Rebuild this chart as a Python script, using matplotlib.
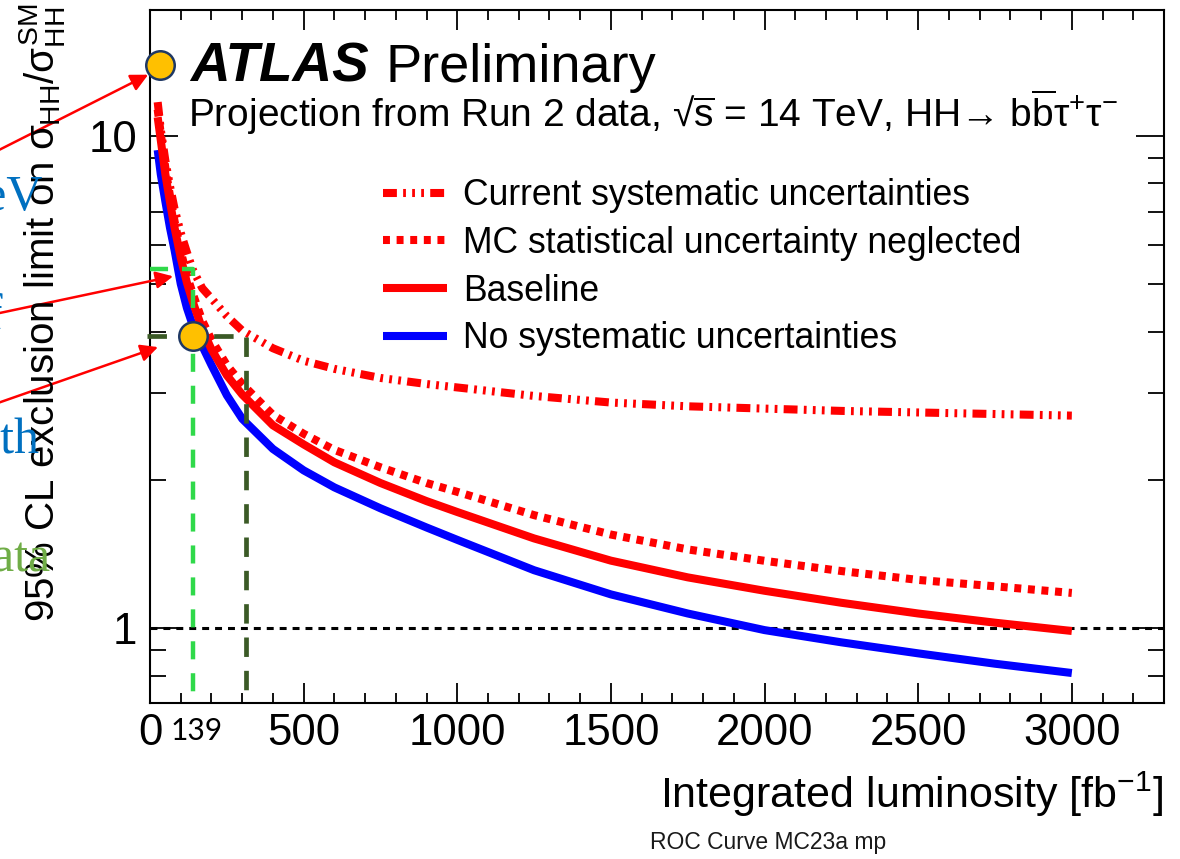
import matplotlib
matplotlib.use("Agg")
import matplotlib.pyplot as plt
from matplotlib import font_manager as fm
from matplotlib.ticker import FixedLocator, MultipleLocator, LogLocator, NullFormatter
import numpy as np

# ---------------- data ----------------
lumi = [25, 35, 50, 65, 80, 100, 120, 139, 170, 200, 250, 300, 400, 500, 600, 750,
        900, 1000, 1250, 1500, 1750, 2000, 2250, 2500, 2750, 3000]
limit_current_syst = [11.7, 10.3, 8.9, 7.9, 7.1, 6.35, 5.8, 5.35, 4.9, 4.67, 4.3, 4.02,
                      3.7, 3.49, 3.36, 3.22, 3.13, 3.08, 2.96, 2.87, 2.82, 2.79, 2.76,
                      2.74, 2.72, 2.70]
limit_mc_neglected = [11.3, 10.1, 8.6, 7.55, 6.7, 5.82, 5.2, 4.78, 4.21, 3.85, 3.42,
                      3.13, 2.71, 2.48, 2.30, 2.12, 1.97, 1.89, 1.695, 1.548, 1.444,
                      1.369, 1.305, 1.252, 1.215, 1.178]
limit_baseline = [10.9, 9.8, 8.35, 7.33, 6.5, 5.65, 5.03, 4.6, 4.05, 3.68, 3.26, 2.98,
                  2.58, 2.36, 2.17, 1.97, 1.81, 1.72, 1.52, 1.37, 1.267, 1.19, 1.125,
                  1.07, 1.025, 0.986]
limit_no_syst = [9.35, 8.35, 7.35, 6.5, 5.85, 5.0, 4.47, 4.12, 3.74, 3.42, 2.97, 2.66,
                 2.31, 2.09, 1.93, 1.75, 1.60, 1.51, 1.31, 1.17, 1.07, 0.99, 0.935,
                 0.888, 0.846, 0.81]

series_labels = [
    "Current systematic uncertainties",
    "MC statistical uncertainty neglected",
    "Baseline",
    "No systematic uncertainties",
]

x_major_ticks = [0, 500, 1000, 1500, 2000, 2500, 3000]
x_tick_labels = ["0", "500", "1000", "1500", "2000", "2500", "3000"]
y_major_ticks = [1, 10]
y_tick_labels = ["1", "10"]

run2_lumi = 139          # fb^-1 collected in Run 2
run2_guide_limit = 5.35  # light-green guide level
run2_limit = 3.92        # marked limit at 139 fb^-1
extended_lumi = 313      # dark-green guide luminosity
top_marker = (33, 13.9)

X_MIN, X_MAX = 0, 3300
Y_MIN, Y_MAX = 0.704, 18.0

# ---------------- style ----------------
W, H = 1180, 859
plt.rcParams["font.family"] = ["Liberation Sans", "DejaVu Sans"]
plt.rcParams["mathtext.fontset"] = "custom"
plt.rcParams["mathtext.rm"] = "Liberation Sans"
plt.rcParams["mathtext.it"] = "Liberation Sans"
plt.rcParams["mathtext.bf"] = "Liberation Sans:bold"
plt.rcParams["mathtext.sf"] = "Liberation Sans"
plt.rcParams["lines.scale_dashes"] = False


def fx(x):
    return x / W


def fy(y):
    return 1 - y / H


installed = {f.name for f in fm.fontManager.ttflist}

fig = plt.figure(figsize=(W / 100, H / 100), dpi=100)
fig.patch.set_facecolor("white")
ax = fig.add_axes([fx(150), fy(703), (1164 - 150) / W, (703 - 10) / H])
ax.set_yscale("log")
ax.set_xlim(X_MIN, X_MAX)
ax.set_ylim(Y_MIN, Y_MAX)

RED = "#ff0000"
BLUE = "#0000ff"
LW = 5.8

l_blue, = ax.plot(lumi, limit_no_syst, color=BLUE, lw=LW, solid_capstyle="butt",
                  solid_joinstyle="round", zorder=3)
l_base, = ax.plot(lumi, limit_baseline, color=RED, lw=LW, solid_capstyle="butt",
                  solid_joinstyle="round", zorder=3)
l_mc, = ax.plot(lumi, limit_mc_neglected, color=RED, lw=LW, ls=(0, (5.0, 4.8)),
                dash_capstyle="butt", zorder=3)
l_cur, = ax.plot(lumi, limit_current_syst, color=RED, lw=LW,
                 ls=(0, (10.0, 4.5, 2.0, 4.5, 2.0, 4.5, 2.0, 4.5)),
                 dash_capstyle="butt", zorder=3)

ax.axhline(1.0, color="black", lw=2.2, ls=(0, (5.0, 4.3)), zorder=2)

# guide lines for the Run 2 luminosity
ax.plot([0, run2_lumi, run2_lumi], [run2_guide_limit, run2_guide_limit, Y_MIN],
        color="#2fd94a", lw=3.2, ls=(0, (13, 10)), zorder=4, clip_on=False)
ax.plot([-10, extended_lumi, extended_lumi], [run2_limit, run2_limit, Y_MIN],
        color="#3b5a26", lw=3.4, ls=(0, (14, 10)), zorder=4, clip_on=False)

# highlighted points
marker_kw = dict(marker="o", ms=20.5, mfc="#ffc000", mec="#1f3864", mew=1.8,
                 ls="none", zorder=7, clip_on=False)
ax.plot([run2_lumi], [run2_limit], **marker_kw)
ax.plot([top_marker[0]], [top_marker[1]], **marker_kw)

# axes, ticks
for s in ax.spines.values():
    s.set_linewidth(1.5)
ax.xaxis.set_major_locator(FixedLocator(x_major_ticks))
ax.set_xticklabels(x_tick_labels)
ax.xaxis.set_minor_locator(MultipleLocator(100))
ax.yaxis.set_major_locator(FixedLocator(y_major_ticks))
ax.set_yticklabels(y_tick_labels)
ax.yaxis.set_minor_locator(LogLocator(base=10, subs=np.arange(2, 10), numticks=20))
ax.yaxis.set_minor_formatter(NullFormatter())
ax.tick_params(which="both", direction="in", top=True, right=True, width=1.3,
               labelsize=31.5)
ax.tick_params(axis="x", which="major", length=14.4, pad=7)
ax.tick_params(axis="x", which="minor", length=7.2)
ax.tick_params(axis="y", which="major", length=20, pad=9)
ax.tick_params(axis="y", which="minor", length=11.5)

ax.annotate("139", xy=(run2_lumi, 0), xycoords=("data", "axes fraction"),
            xytext=(3, -20), textcoords="offset points", ha="center", va="center",
            fontsize=21.5, family=["Lato", "DejaVu Sans"], annotation_clip=False)

# legend
leg = ax.legend([l_cur, l_mc, l_base, l_blue], series_labels, loc="upper left",
                bbox_to_anchor=(fx(383), fy(178)), bbox_transform=fig.transFigure,
                frameon=False, fontsize=25.6, handlelength=1.8, handletextpad=0.45,
                labelspacing=0.36, borderpad=0, borderaxespad=0)

# titles and axis labels
fig.text(fx(190), fy(82), "ATLAS", fontsize=39.5, fontweight="bold", fontstyle="italic",
         ha="left", va="baseline")
fig.text(fx(385), fy(82), "Preliminary", fontsize=39, ha="left", va="baseline")
fig.text(fx(188), fy(127),
         r"Projection from Run 2 data, √$\overline{\rm s}$ = 14 TeV, HH→ b$\overline{\rm b}$τ$^{+}$τ$^{-}$",
         fontsize=28, ha="left", va="baseline")
fig.text(fx(1163), fy(808), r"Integrated luminosity [fb$^{-1}$]", fontsize=31,
         ha="right", va="baseline")
fig.text(fx(42), fy(622),
         r"95% CL exclusion limit on $\sigma_{\rm HH}/\sigma^{\rm SM}_{\rm HH}$",
         fontsize=29, rotation=90, ha="center", va="bottom")

# pointer arrows
arrow_kw = dict(arrowstyle="-|>", color=RED, lw=1.8, mutation_scale=26,
                shrinkA=0, shrinkB=0)
ax.annotate("", xy=(-6, 13.3), xycoords="data", xytext=(-5, H - 152),
            textcoords="figure pixels", arrowprops=arrow_kw, annotation_clip=False)
ax.annotate("", xy=(75, 5.18), xycoords="data", xytext=(-5, H - 314),
            textcoords="figure pixels", arrowprops=arrow_kw, annotation_clip=False)
ax.annotate("", xy=(26, 3.72), xycoords="data", xytext=(-5, H - 404),
            textcoords="figure pixels", arrowprops=arrow_kw, annotation_clip=False)

# side notes
serif = ["Liberation Serif", "DejaVu Serif"]
fig.text(fx(43), fy(210), "TeV", fontsize=36, family=serif, color="#0070c0",
         ha="right", va="baseline")
fig.text(fx(3), fy(330), "of", fontsize=36, family=serif, color="#0070c0",
         ha="right", va="baseline")
fig.text(fx(40), fy(453), "with", fontsize=36, family=serif, color="#0070c0",
         ha="right", va="baseline")
fig.text(fx(50), fy(572), "data", fontsize=36, family=serif, color="#70ad47",
         ha="right", va="baseline")

if "Liberation Sans Narrow" in installed:
    fig.text(fx(768), fy(843), "ROC Curve MC23a mp", fontsize=19.3,
             family="Liberation Sans Narrow", color="#1a1a1a", ha="center", va="center")
else:
    fig.text(fx(768), fy(843), "ROC Curve MC23a mp", fontsize=16.5, color="#1a1a1a",
             ha="center", va="center")

fig.savefig("out.png", dpi=100)
